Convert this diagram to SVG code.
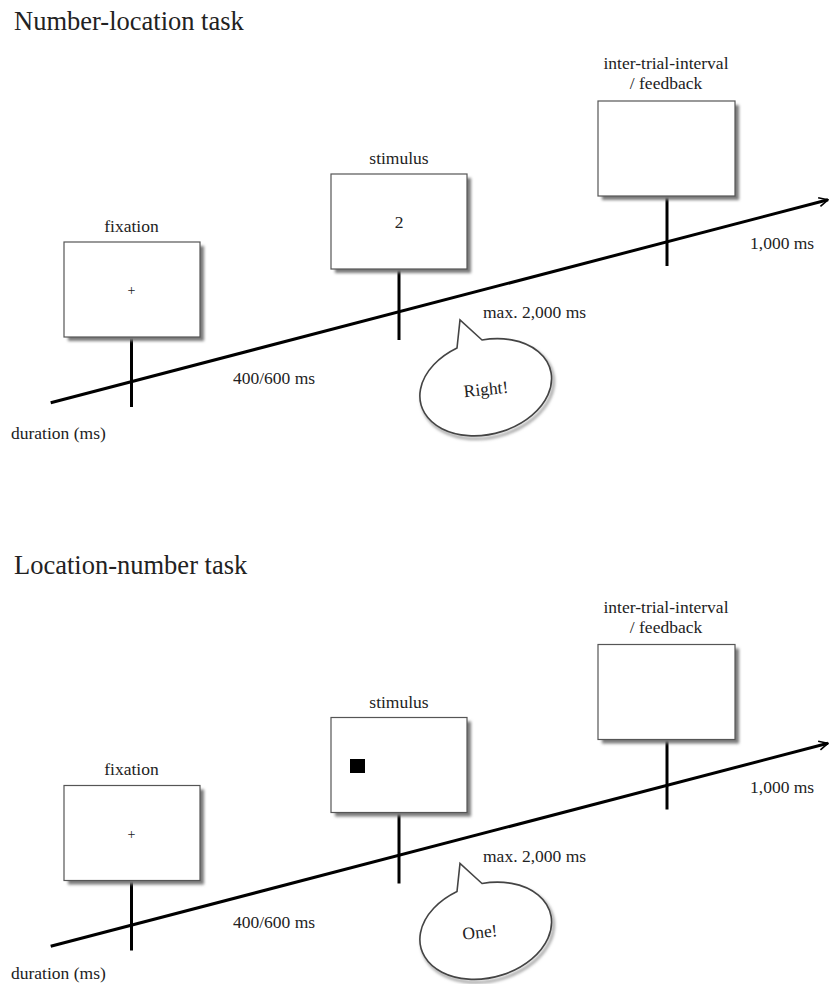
<svg xmlns="http://www.w3.org/2000/svg" width="829" height="984" viewBox="0 0 829 984">
<defs>
<filter id="blur" x="-10%" y="-10%" width="130%" height="130%"><feGaussianBlur stdDeviation="1.6"/></filter>
<marker id="arr" markerWidth="12" markerHeight="12" refX="0" refY="0" viewBox="-10 -6 12 12" orient="auto" markerUnits="userSpaceOnUse">
<path d="M-9,-4.5 L0,0 L-9,4.5" fill="none" stroke="#000" stroke-width="1.6"/>
</marker>
<style>
text{font-family:"Liberation Serif","Times New Roman",serif;fill:#222;}
.title{font-size:26.5px;}
.lbl{font-size:17.5px;}
.box{fill:#fff;stroke:#555;stroke-width:1.2;}
.shadow{fill:#7a7a7a;filter:url(#blur);}
.tl{stroke:#000;stroke-width:3;fill:none;}
.tick{stroke:#000;stroke-width:3;}
.bub{fill:#fff;stroke:#444;stroke-width:1.6;}
.bshadow{fill:none;stroke:#999;stroke-width:2.5;filter:url(#blur);}
</style>
</defs>

<!-- ========== Top panel ========== -->
<text class="title" x="14" y="30">Number-location task</text>

<g id="connectors-top">
<line class="tl" x1="50.7" y1="402.7" x2="828" y2="199.8" marker-end="url(#arr)"/>
<line class="tick" x1="131.5" y1="337" x2="131.5" y2="407"/>
<line class="tick" x1="399" y1="269" x2="399" y2="340"/>
<line class="tick" x1="667" y1="196" x2="667" y2="266"/>
</g>

<g id="fixation-top">
<text class="lbl" x="131.5" y="231.5" text-anchor="middle">fixation</text>
<rect class="shadow" x="68" y="246" width="136" height="95"/>
<rect class="box" x="64" y="242" width="136" height="95"/>
<text x="131.5" y="295" text-anchor="middle" font-size="14">+</text>
</g>

<g id="stimulus-top">
<text class="lbl" x="399" y="164" text-anchor="middle">stimulus</text>
<rect class="shadow" x="335" y="178" width="136" height="95"/>
<rect class="box" x="331" y="174" width="136" height="95"/>
<text class="lbl" x="399" y="228" text-anchor="middle">2</text>
</g>

<g id="iti-top">
<text class="lbl" x="666" y="69" text-anchor="middle">inter-trial-interval</text>
<text class="lbl" x="666" y="89" text-anchor="middle">/ feedback</text>
<rect class="shadow" x="602" y="105" width="137" height="95"/>
<rect class="box" x="598" y="101" width="137" height="95"/>
</g>

<g id="labels-top">
<text class="lbl" x="233" y="384">400/600 ms</text>
<text class="lbl" x="483" y="318">max. 2,000 ms</text>
<text class="lbl" x="750" y="249">1,000 ms</text>
<text class="lbl" x="11" y="439">duration (ms)</text>
</g>

<g id="bubble-top">
<path class="bshadow" d="M482,340 A67,47 -15 1 1 457,348" transform="translate(2,3)"/>
<path class="bub" d="M457,348 L460,320 L482,340 A67,47 -15 1 1 457,348 Z"/>
<text class="lbl" x="486" y="395" text-anchor="middle" transform="rotate(-6 486 390)">Right!</text>
</g>

<!-- ========== Bottom panel ========== -->
<text class="title" x="14" y="573.5">Location-number task</text>

<g id="connectors-bottom">
<line class="tl" x1="50.7" y1="946.2" x2="828" y2="743.3" marker-end="url(#arr)"/>
<line class="tick" x1="131.5" y1="880.5" x2="131.5" y2="950.5"/>
<line class="tick" x1="399" y1="812.5" x2="399" y2="883.5"/>
<line class="tick" x1="667" y1="739.5" x2="667" y2="809.5"/>
</g>

<g id="fixation-bottom">
<text class="lbl" x="131.5" y="775" text-anchor="middle">fixation</text>
<rect class="shadow" x="68" y="789.5" width="136" height="95"/>
<rect class="box" x="64" y="785.5" width="136" height="95"/>
<text x="131.5" y="838.5" text-anchor="middle" font-size="14">+</text>
</g>

<g id="stimulus-bottom">
<text class="lbl" x="399" y="707.5" text-anchor="middle">stimulus</text>
<rect class="shadow" x="335" y="721.5" width="136" height="95"/>
<rect class="box" x="331" y="717.5" width="136" height="95"/>
<rect x="350" y="759" width="15" height="14" fill="#000"/>
</g>

<g id="iti-bottom">
<text class="lbl" x="666" y="612.5" text-anchor="middle">inter-trial-interval</text>
<text class="lbl" x="666" y="632.5" text-anchor="middle">/ feedback</text>
<rect class="shadow" x="602" y="648.5" width="137" height="95"/>
<rect class="box" x="598" y="644.5" width="137" height="95"/>
</g>

<g id="labels-bottom">
<text class="lbl" x="233" y="927.5">400/600 ms</text>
<text class="lbl" x="483" y="861.5">max. 2,000 ms</text>
<text class="lbl" x="750" y="792.5">1,000 ms</text>
<text class="lbl" x="11" y="979">duration (ms)</text>
</g>

<g id="bubble-bottom">
<path class="bshadow" d="M482,883.5 A67,47 -15 1 1 457,891.5" transform="translate(2,3)"/>
<path class="bub" d="M457,891.5 L460,863.5 L482,883.5 A67,47 -15 1 1 457,891.5 Z"/>
<text class="lbl" x="480" y="938" text-anchor="middle" transform="rotate(-6 480 933)">One!</text>
</g>
</svg>
